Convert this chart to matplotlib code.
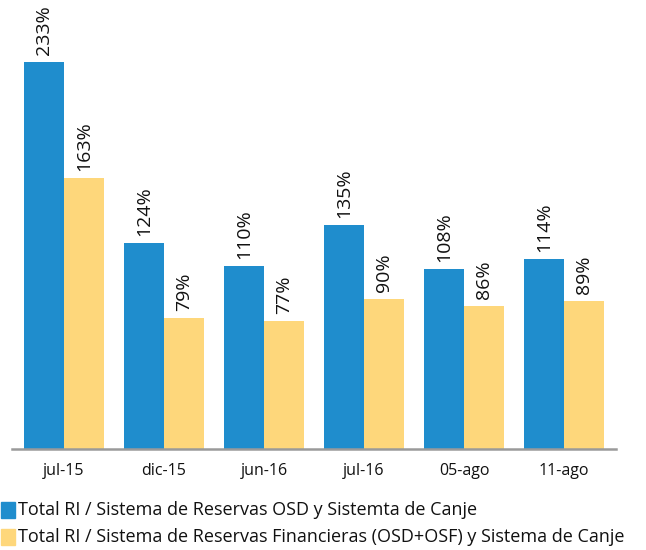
import matplotlib
matplotlib.use("Agg")
import matplotlib.pyplot as plt
from matplotlib.patches import Rectangle
import numpy as np

plt.rcParams['font.family'] = ['Open Sans', 'DejaVu Sans']

categories = ["jul-15", "dic-15", "jun-16", "jul-16", "05-ago", "11-ago"]
serie_osd = [233, 124, 110, 135, 108, 114]
serie_fin = [163, 79, 77, 90, 86, 89]
series_names = ["Total RI / Sistema de Reservas OSD y Sistemta de Canje",
                "Total RI / Sistema de Reservas Financieras (OSD+OSF) y Sistema de Canje"]
colors = ["#1F8DCD", "#FED77B"]

fig = plt.figure(figsize=(6.46, 5.5), dpi=100)
ax = fig.add_axes([12/646, 101/550, (616-12)/646, 449/550])

x = np.arange(len(categories))
w = 0.4
b1 = ax.bar(x - w/2, serie_osd, w, color=colors[0])
b2 = ax.bar(x + w/2, serie_fin, w, color=colors[1])

for bars, vals in ((b1, serie_osd), (b2, serie_fin)):
    for r, v in zip(bars, vals):
        ax.annotate(f"{v}%", (r.get_x() + r.get_width()/2, r.get_height()),
                    xytext=(0, 5), textcoords="offset points",
                    rotation=90, ha="center", va="bottom", fontsize=14, color="#111111")

ax.set_xlim(-0.52, 5.52)
ax.set_ylim(0, 270)
ax.set_xticks(x)
ax.set_xticklabels(categories, fontsize=11.5, color="#111111")
ax.tick_params(axis="x", length=0, pad=10)
ax.set_yticks([])
for s in ["top", "right", "left"]:
    ax.spines[s].set_visible(False)
ax.spines["bottom"].set_color("#9a9a9a")
ax.spines["bottom"].set_linewidth(1.8)

# legend
for i, (name, c) in enumerate(zip(series_names, colors)):
    yc = 510 + i * 27
    fig.patches.append(Rectangle((1/646, (550 - yc - 8)/550), 14/646, 16/550,
                                 transform=fig.transFigure, color=c))
    fig.text(18/646, (550 - yc)/550, name, fontsize=13, va="center", ha="left", color="#111111")

fig.savefig("out.png", dpi=100)
